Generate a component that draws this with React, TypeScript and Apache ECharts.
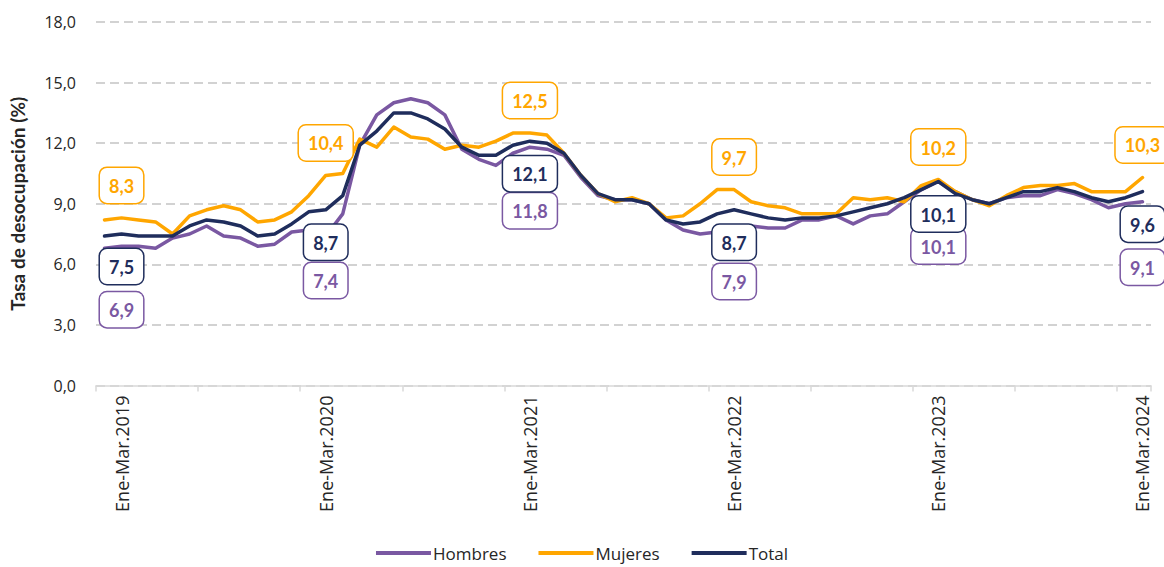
import React, { useEffect, useRef } from "react";
import * as echarts from "echarts";

// Rolling quarters: Dic-Feb 2019 ... Ene-Mar 2024 (62 periods)
const trimesters = [
  "Dic-Feb", "Ene-Mar", "Feb-Abr", "Mar-May", "Abr-Jun", "May-Jul",
  "Jun-Ago", "Jul-Sep", "Ago-Oct", "Sep-Nov", "Oct-Dic", "Nov-Ene",
];
const firstYear = 2019;
const periodCount = 62;
const categories: string[] = [];
for (let i = 0; i < periodCount; i++) {
  const year = firstYear + Math.floor(i / 12) + (i % 12 === 11 ? 1 : 0);
  categories.push(trimesters[i % 12] + "." + year);
}

const hombres = [
  6.8, 6.9, 6.9, 6.8, 7.3, 7.5, 7.9, 7.4, 7.3, 6.9, 7.0, 7.6,
  7.7, 7.4, 8.5, 11.9, 13.4, 14.0, 14.2, 14.0, 13.4, 11.7, 11.2, 10.9,
  11.5, 11.8, 11.7, 11.4, 10.3, 9.4, 9.2, 9.2, 9.0, 8.2, 7.7, 7.5,
  7.6, 7.9, 7.9, 7.8, 7.8, 8.2, 8.2, 8.4, 8.0, 8.4, 8.5, 9.1,
  9.7, 10.1, 9.6, 9.2, 9.0, 9.3, 9.4, 9.4, 9.7, 9.5, 9.2, 8.8,
  9.0, 9.1,
];
const mujeres = [
  8.2, 8.3, 8.2, 8.1, 7.5, 8.4, 8.7, 8.9, 8.7, 8.1, 8.2, 8.6,
  9.4, 10.4, 10.5, 12.2, 11.8, 12.8, 12.3, 12.2, 11.7, 11.9, 11.8, 12.1,
  12.5, 12.5, 12.4, 11.5, 10.4, 9.5, 9.1, 9.3, 9.0, 8.3, 8.4, 9.0,
  9.7, 9.7, 9.1, 8.9, 8.8, 8.5, 8.5, 8.5, 9.3, 9.2, 9.3, 9.1,
  9.9, 10.2, 9.6, 9.2, 8.9, 9.4, 9.8, 9.9, 9.9, 10.0, 9.6, 9.6,
  9.6, 10.3,
];
const total = [
  7.4, 7.5, 7.4, 7.4, 7.4, 7.9, 8.2, 8.1, 7.9, 7.4, 7.5, 8.0,
  8.6, 8.7, 9.4, 11.9, 12.6, 13.5, 13.5, 13.2, 12.7, 11.8, 11.4, 11.4,
  11.9, 12.1, 12.0, 11.5, 10.4, 9.5, 9.2, 9.2, 9.0, 8.2, 8.0, 8.1,
  8.5, 8.7, 8.5, 8.3, 8.2, 8.3, 8.3, 8.4, 8.6, 8.8, 9.0, 9.3,
  9.7, 10.1, 9.5, 9.2, 9.0, 9.3, 9.6, 9.6, 9.8, 9.6, 9.3, 9.1,
  9.3, 9.6,
];

const yTicks = [0, 3, 6, 9, 12, 15, 18];
const labelIndices = [1, 13, 25, 37, 49, 61];

// layout (styling only)
const hombresLabelGap = [46, 27, 46, 38, 47, 48];

const COLORS = {
  hombres: "#7a58a2",
  mujeres: "#ffa600",
  total: "#1f2d5c",
};
const FONT = "Lato, 'Noto Sans', sans-serif";
const WIDE_FONT = "'Open Sans', 'Noto Sans', sans-serif";

const fmt = (v: number) => v.toFixed(1).replace(".", ",");

function labelBox(color: string) {
  return {
    color,
    fontWeight: "bold" as const,
    fontSize: 18,
    lineHeight: 20,
    fontFamily: FONT,
    backgroundColor: "#ffffff",
    borderColor: color,
    borderWidth: 1.5,
    borderRadius: 7,
    padding: [8, 9, 7, 9],
    formatter: (p: any) => fmt(p.value as number),
  };
}

function buildData(values: number[], labelFor: (k: number) => any) {
  return values.map((v, i) => {
    const k = labelIndices.indexOf(i);
    if (k < 0) return v;
    return { value: v, label: { show: true, ...labelFor(k) } };
  });
}

function lineSeries(name: string, color: string, data: any[], label: any) {
  return {
    name,
    type: "line",
    data,
    symbol: "circle",
    symbolSize: 0.01,
    showSymbol: true,
    showAllSymbol: true,
    itemStyle: { color },
    lineStyle: { color, width: 3.5, cap: "round", join: "round" },
    label: { show: false, ...label },
    emphasis: { disabled: true },
  };
}

export default function App() {
  const ref = useRef<HTMLDivElement>(null);

  useEffect(() => {
    if (!ref.current) return;
    const chart = echarts.init(ref.current, undefined, { renderer: "svg" });

    const option: any = {
      animation: false,
      backgroundColor: "#ffffff",
      grid: { left: 95, right: 13, top: 22, bottom: 181.5 },
      legend: {
        data: ["Hombres", "Mujeres", "Total"],
        top: 538,
        left: "center",
        icon: "rect",
        itemWidth: 55,
        itemHeight: 4,
        itemGap: 32,
        textStyle: {
          fontSize: 17,
          lineHeight: 20,
          color: "#262626",
          fontFamily: WIDE_FONT,
          padding: [0, 0, 0, -3],
        },
      },
      xAxis: {
        type: "category",
        data: categories,
        boundaryGap: true,
        axisLine: { show: true, lineStyle: { color: "#d9d9d9", width: 1.5 } },
        axisTick: {
          show: true,
          interval: 5,
          length: 6,
          lineStyle: { color: "#d9d9d9", width: 1.5 },
        },
        axisLabel: {
          interval: (index: number) => index % 12 === 1,
          rotate: 90,
          margin: 10,
          fontSize: 18,
          color: "#262626",
          fontFamily: WIDE_FONT,
        },
        splitLine: { show: false },
      },
      yAxis: {
        type: "value",
        min: yTicks[0],
        max: yTicks[yTicks.length - 1],
        interval: 3,
        name: "Tasa de desocupación (%)",
        nameLocation: "middle",
        nameRotate: 90,
        nameGap: 69,
        nameTextStyle: {
          fontSize: 19,
          fontWeight: "bold",
          color: "#262626",
          fontFamily: FONT,
        },
        axisLine: { show: false },
        axisTick: { show: false },
        axisLabel: {
          margin: 20,
          fontSize: 16,
          color: "#262626",
          fontFamily: WIDE_FONT,
          formatter: (v: number) => fmt(v),
        },
        splitLine: {
          show: true,
          lineStyle: { color: "#c4c4c4", width: 1.5, type: [9, 5] },
        },
      },
      series: [
        lineSeries(
          "Hombres",
          COLORS.hombres,
          buildData(hombres, (k) => ({ position: "bottom", distance: hombresLabelGap[k] })),
          labelBox(COLORS.hombres),
        ),
        lineSeries(
          "Mujeres",
          COLORS.mujeres,
          buildData(mujeres, () => ({ position: "top", distance: 15 })),
          labelBox(COLORS.mujeres),
        ),
        lineSeries(
          "Total",
          COLORS.total,
          buildData(total, () => ({ position: "bottom", distance: 15 })),
          labelBox(COLORS.total),
        ),
      ],
    };

    chart.setOption(option);
    return () => chart.dispose();
  }, []);

  return (
    <div
      ref={ref}
      style={{ position: "fixed", left: 0, top: 0, width: 1164, height: 567, background: "#fff" }}
    />
  );
}
